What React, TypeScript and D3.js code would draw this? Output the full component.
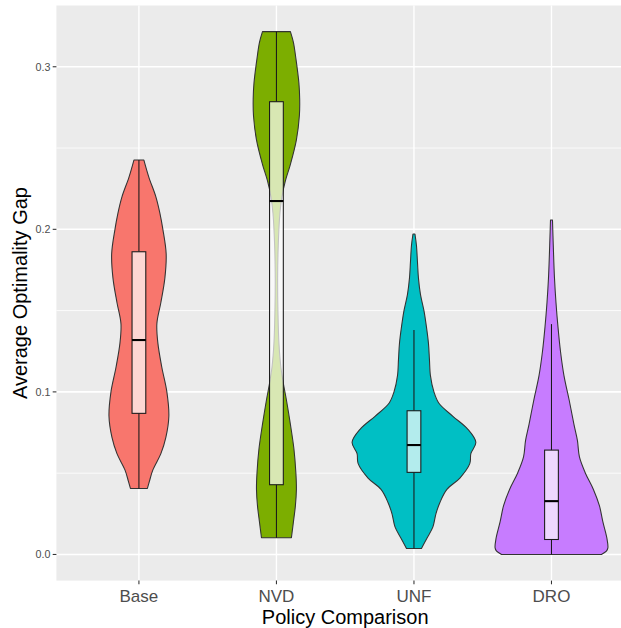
import React, { useRef, useEffect } from 'react';
import * as d3 from 'd3';

const categories = ['Base', 'NVD', 'UNF', 'DRO'];
const fillColors = ['#F8766D', '#7CAE00', '#00BFC4', '#C77CFF'];

// violin outlines: [value, relative density]
const baseDensity: [number, number][] = [
  [0.0406, 8.5], [0.045, 10.5], [0.052, 14], [0.062, 22], [0.072, 27], [0.085, 30],
  [0.1, 28], [0.115, 23], [0.13, 19], [0.142, 18], [0.155, 22], [0.17, 26],
  [0.185, 27.3], [0.2, 24], [0.21, 21], [0.22, 17], [0.232, 10], [0.2426, 5],
];
const nvdDensity: [number, number][] = [
  [0.0103, 15], [0.02, 17], [0.03, 19], [0.04, 20], [0.05, 19.5], [0.065, 17.5],
  [0.08, 14], [0.095, 10], [0.105, 7], [0.115, 4.5], [0.13, 2.5], [0.15, 1.5],
  [0.17, 1.2], [0.19, 1.8], [0.21, 3.5], [0.22, 5.5], [0.23, 9], [0.24, 14],
  [0.255, 20], [0.27, 23], [0.28, 23.3], [0.29, 22.5], [0.305, 19.5], [0.315, 17], [0.3216, 14],
];
const unfDensity: [number, number][] = [
  [0.0037, 7.5], [0.01, 13], [0.017, 19], [0.025, 22], [0.032, 26], [0.04, 33],
  [0.047, 46], [0.056, 56], [0.062, 57], [0.069, 62], [0.077, 54], [0.085, 39],
  [0.093, 25], [0.1, 20], [0.11, 16.5], [0.12, 15.5], [0.13, 14.5], [0.14, 12.5],
  [0.15, 10], [0.16, 6.5], [0.17, 4.5], [0.18, 3.5], [0.19, 2.5], [0.1971, 1],
];
const droDensity: [number, number][] = [
  [0, 50], [0.002, 55], [0.004, 56.5], [0.01, 55.5], [0.02, 51.5], [0.03, 48],
  [0.04, 42], [0.05, 34], [0.06, 28], [0.07, 26], [0.08, 22.5], [0.095, 17.7],
  [0.11, 12.5], [0.125, 9], [0.14, 6.5], [0.155, 4.5], [0.17, 3], [0.19, 1.8], [0.2057, 1],
];
const densities = [baseDensity, nvdDensity, unfDensity, droDensity];

// boxplot: [lower whisker, q1, median, q3, upper whisker]
const baseBox = [0.0406, 0.0868, 0.1319, 0.1862, 0.2426];
const nvdBox = [0.0103, 0.0429, 0.2174, 0.2785, 0.3216];
const unfBox = [0.0037, 0.0505, 0.0673, 0.0884, 0.138];
const droBox = [0, 0.0092, 0.0328, 0.0642, 0.1417];
const boxes = [baseBox, nvdBox, unfBox, droBox];

const yTicks = [0, 0.1, 0.2, 0.3];
const yTickLabels = ['0.0', '0.1', '0.2', '0.3'];
const yMinorTicks = [0.05, 0.15, 0.25];

const FONT = '"Liberation Sans", Arial, sans-serif';

const ViolinChart = () => {
  const svgRef = useRef<SVGSVGElement>(null);

  useEffect(() => {
    const svg = d3.select(svgRef.current);
    svg.selectAll('*').remove();

    // panel runs past the right edge of the image, as in the original
    const panel = { left: 56.4, right: 634, top: 5.5, bottom: 580.6 };

    const allValues = densities.flat().map(d => d[0]);
    const lo = d3.min(allValues) as number;
    const hi = d3.max(allValues) as number;
    const pad = (hi - lo) * 0.05;

    const y = d3.scaleLinear()
      .domain([lo - pad, hi + pad])
      .range([panel.bottom, panel.top]);

    const x = d3.scalePoint<string>()
      .domain(categories)
      .range([panel.left, panel.right])
      .padding(0.6);
    const step = x.step();

    const maxDensity = d3.max(densities.flat(), d => d[1]) as number;
    const halfWidth = d3.scaleLinear().domain([0, maxDensity]).range([0, 0.45 * step]);

    // panel background
    svg.append('rect')
      .attr('x', panel.left).attr('y', panel.top)
      .attr('width', panel.right - panel.left).attr('height', panel.bottom - panel.top)
      .attr('fill', '#EBEBEB');

    // grid
    svg.append('g').selectAll('line')
      .data(yMinorTicks)
      .join('line')
      .attr('x1', panel.left).attr('x2', panel.right)
      .attr('y1', d => y(d)).attr('y2', d => y(d))
      .attr('stroke', '#fff').attr('stroke-width', 0.8);

    svg.append('g').selectAll('line')
      .data(yTicks)
      .join('line')
      .attr('x1', panel.left).attr('x2', panel.right)
      .attr('y1', d => y(d)).attr('y2', d => y(d))
      .attr('stroke', '#fff').attr('stroke-width', 1.6);

    svg.append('g').selectAll('line')
      .data(categories)
      .join('line')
      .attr('x1', d => x(d)!).attr('x2', d => x(d)!)
      .attr('y1', panel.top).attr('y2', panel.bottom)
      .attr('stroke', '#fff').attr('stroke-width', 1.4);

    // violins
    categories.forEach((cat, i) => {
      const cx = x(cat)!;
      const area = d3.area<[number, number]>()
        .y(d => y(d[0]))
        .x0(d => cx - halfWidth(d[1]))
        .x1(d => cx + halfWidth(d[1]))
        .curve(d3.curveCatmullRom.alpha(0.5));

      svg.append('path')
        .datum(densities[i])
        .attr('d', area)
        .attr('fill', fillColors[i])
        .attr('stroke', '#333333')
        .attr('stroke-width', 1.07)
        .attr('stroke-linejoin', 'round');
    });

    // boxplots
    const boxHalf = 0.05 * step;
    categories.forEach((cat, i) => {
      const cx = x(cat)!;
      const [wLo, q1, med, q3, wHi] = boxes[i];
      const g = svg.append('g');

      g.append('line')
        .attr('x1', cx).attr('x2', cx)
        .attr('y1', y(q3)).attr('y2', y(wHi))
        .attr('stroke', '#1a1a1a').attr('stroke-width', 1.07);
      g.append('line')
        .attr('x1', cx).attr('x2', cx)
        .attr('y1', y(q1)).attr('y2', y(wLo))
        .attr('stroke', '#1a1a1a').attr('stroke-width', 1.07);

      g.append('rect')
        .attr('x', cx - boxHalf).attr('width', boxHalf * 2)
        .attr('y', y(q3)).attr('height', y(q1) - y(q3))
        .attr('fill', '#fff').attr('fill-opacity', 0.7)
        .attr('stroke', '#1a1a1a').attr('stroke-width', 1.07);

      g.append('line')
        .attr('x1', cx - boxHalf).attr('x2', cx + boxHalf)
        .attr('y1', y(med)).attr('y2', y(med))
        .attr('stroke', '#000').attr('stroke-width', 2.1);
    });

    // y axis
    const yAxis = svg.append('g');
    yAxis.selectAll('line')
      .data(yTicks)
      .join('line')
      .attr('x1', panel.left - 3.7).attr('x2', panel.left)
      .attr('y1', d => y(d)).attr('y2', d => y(d))
      .attr('stroke', '#333333').attr('stroke-width', 1.07);
    yAxis.selectAll('text')
      .data(yTicks)
      .join('text')
      .attr('x', panel.left - 6)
      .attr('y', d => y(d))
      .attr('dy', '0.36em')
      .attr('text-anchor', 'end')
      .attr('font-family', FONT)
      .attr('font-size', 10.7)
      .attr('fill', '#4D4D4D')
      .text((d, i) => yTickLabels[i]);

    // x axis
    const xAxis = svg.append('g');
    xAxis.selectAll('line')
      .data(categories)
      .join('line')
      .attr('x1', d => x(d)!).attr('x2', d => x(d)!)
      .attr('y1', panel.bottom).attr('y2', panel.bottom + 3.7)
      .attr('stroke', '#333333').attr('stroke-width', 1.07);
    xAxis.selectAll('text')
      .data(categories)
      .join('text')
      .attr('x', d => x(d)!)
      .attr('y', 601.5)
      .attr('text-anchor', 'middle')
      .attr('font-family', FONT)
      .attr('font-size', 17)
      .attr('fill', '#4D4D4D')
      .text(d => d);

    // axis titles
    svg.append('text')
      .attr('x', (panel.left + panel.right) / 2)
      .attr('y', 624)
      .attr('text-anchor', 'middle')
      .attr('font-family', FONT)
      .attr('font-size', 20)
      .attr('fill', '#000')
      .text('Policy Comparison');

    svg.append('text')
      .attr('transform', `translate(27.3,${(panel.top + panel.bottom) / 2}) rotate(-90)`)
      .attr('text-anchor', 'middle')
      .attr('font-family', FONT)
      .attr('font-size', 20)
      .attr('fill', '#000')
      .text('Average Optimality Gap');
  }, []);

  return (
    <svg
      ref={svgRef}
      width="621"
      height="628"
      style={{ position: 'absolute', left: 0, top: 0, background: '#fff' }}
    ></svg>
  );
};

export default function App() {
  return <ViolinChart />;
}
